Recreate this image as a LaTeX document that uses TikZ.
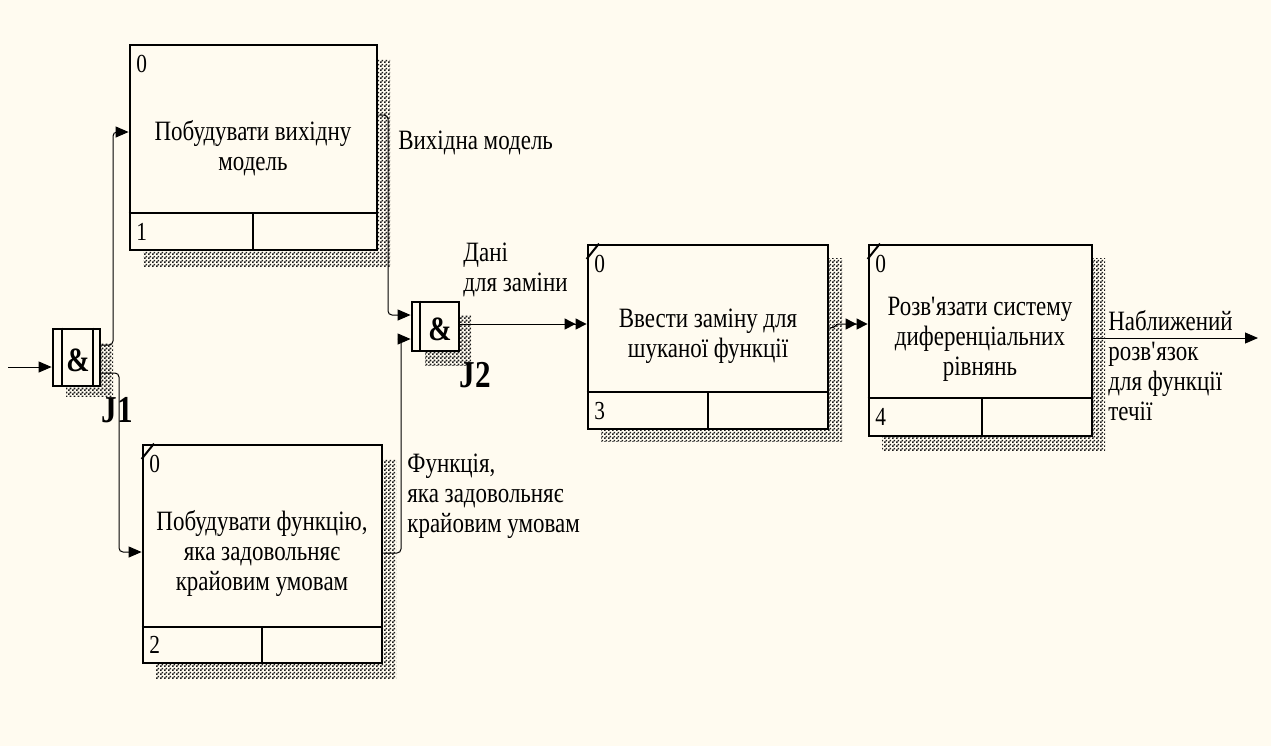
\documentclass[tikz,border=0pt]{standalone}
\usepackage{fontspec}
\setmainfont{Liberation Serif}[FakeStretch=0.82]
\usetikzlibrary{arrows.meta,patterns}
\definecolor{bg}{HTML}{FFFBF0}
\pgfdeclarepatternformonly{checks}{\pgfpointorigin}{\pgfpoint{2pt}{2pt}}{\pgfpoint{2pt}{2pt}}{%
  \pgfpathrectangle{\pgfpointorigin}{\pgfpoint{1pt}{1pt}}%
  \pgfpathrectangle{\pgfpoint{1pt}{1pt}}{\pgfpoint{1pt}{1pt}}%
  \pgfusepath{fill}}
\newcommand\apo{\textquotesingle}
\begin{document}
\begin{tikzpicture}[x=0.5pt,y=-0.5pt,
  box/.style={draw=black, line width=1.4pt, fill=bg, inner sep=0pt},
  divline/.style={draw=black, line width=1.4pt},
  shade/.style={pattern=checks, pattern color=black!90},
  lbl/.style={font=\fontsize{14}{15}\selectfont, align=center, inner sep=0pt},
  side/.style={font=\fontsize{14}{15}\selectfont, align=left, inner sep=0pt, anchor=west},
  num/.style={font=\fontsize{13}{13}\selectfont, inner sep=0pt, anchor=west},
  jname/.style={font=\bfseries\fontsize{19}{20}\selectfont, inner sep=0pt},
  amp/.style={font=\bfseries\fontsize{17}{17}\selectfont, inner sep=0pt},
  conn/.style={draw=black, line width=0.5pt, rounded corners=2pt},
  arr/.style={conn, -{Triangle[length=6.5pt,width=5.5pt]}},
  darr/.style={conn, -{Triangle[length=5.5pt,width=5.5pt]Triangle[length=5.5pt,width=5.5pt]}},
  corner/.style={draw=black, line width=1pt}
]
\fill[bg] (0,0) rectangle (1271,746);
\useasboundingbox (0,0) rectangle (1271,746);

% shadows
\fill[shade] (143,59) rectangle (390,266);
\fill[shade] (156,459) rectangle (396,678);
\fill[shade] (601,258) rectangle (842,441);
\fill[shade] (882,258) rectangle (1105,450);
\fill[shade] (66,343) rectangle (113,396);
\fill[shade] (425,315) rectangle (471,365);

% box 1
\node[box, minimum width=123.5pt, minimum height=102.5pt] (b1) at (253.5,147.5) {};
\draw[divline] (b1.west |- 0,213) -- (b1.east |- 0,213);
\draw[divline] (253,213) -- (b1.south -| 253,0);
\node[lbl] (t1) at (253,148) {Побудувати вихідну\\модель};
\node[num] (z1) at (136,64) {0};
\node[num] (n1) at (136,232) {1};

% box 2
\node[box, minimum width=119.5pt, minimum height=109pt] (b2) at (262.5,554) {};
\draw[divline] (b2.west |- 0,627) -- (b2.east |- 0,627);
\draw[divline] (262,627) -- (b2.south -| 262,0);
\draw[corner] (b2.west |- 0,459) -- (b2.north -| 154,0);
\node[lbl] (t2) at (262,553) {Побудувати функцію,\\яка задовольняє\\крайовим умовам};
\node[num] (z2) at (149,464) {0};
\node[num] (n2) at (149,645) {2};

% box 3
\node[box, minimum width=120pt, minimum height=92pt] (b3) at (708,337) {};
\draw[divline] (b3.west |- 0,392) -- (b3.east |- 0,392);
\draw[divline] (708,392) -- (b3.south -| 708,0);
\draw[corner] (b3.west |- 0,259) -- (b3.north -| 599,0);
\node[lbl] (t3) at (708,336) {Ввести заміну для\\шуканої функції};
\node[num] (z3) at (594,264) {0};
\node[num] (n3) at (594,411) {3};

% box 4
\node[box, minimum width=111.5pt, minimum height=95.5pt] (b4) at (980.5,340.5) {};
\draw[divline] (b4.west |- 0,398) -- (b4.east |- 0,398);
\draw[divline] (982,398) -- (b4.south -| 982,0);
\draw[corner] (b4.west |- 0,259) -- (b4.north -| 880,0);
\node[lbl] (t4) at (980,339) {Розв\apo язати систему\\диференціальних\\рівнянь};
\node[num] (z4) at (875,264) {0};
\node[num] (n4) at (875,417) {4};

% junction J1
\node[box, minimum width=23.5pt, minimum height=28.5pt] (j1) at (76.5,357.5) {};
\draw[divline] (62,0 |- j1.north) -- (62,0 |- j1.south);
\draw[divline] (93,0 |- j1.north) -- (93,0 |- j1.south);
\node[amp] (a1) at (78,360) {\&};
\node[jname] (l1) at (117,410) {J1};

% junction J2
\node[box, minimum width=23.5pt, minimum height=24.5pt] (j2) at (435.5,326.5) {};
\draw[divline] (420,0 |- j2.north) -- (420,0 |- j2.south);
\node[amp] (a2) at (440,329) {\&};
\node[jname] (l2) at (475,375) {J2};

% connectors
\coordinate (in) at (8,367);
\coordinate (out) at (1258,338);
\draw[arr] (in) -- (j1.west |- in);
\draw[arr] (j1.east |- 0,345) -- (113,345) -- (113,132) -- (b1.west |- 0,132);
\draw[arr] (j1.east |- 0,373) -- (119,373) -- (119,552) -- (b2.west |- 0,552);
\draw[arr] (b1.east |- 0,115) -- (388,115) -- (388,315) -- (j2.west |- 0,315);
\draw[arr] (b2.east |- 0,553) -- (401,553) -- (401,339) -- (j2.west |- 0,339);
\draw[darr] (j2.east |- 0,324) -- (b3.west |- 0,324);
\draw[darr] (b3.east |- 0,328) .. controls (836,328) and (836,324) .. (842,324) -- (b4.west |- 0,324);
\draw[arr] (b4.east |- 0,338) -- (out);

% labels
\node[side] (lv) at (398,143) {Вихідна модель};
\node[side] (ld) at (463,270) {Дані\\для заміни};
\node[side] (lf) at (407,496) {Функція,\\яка задовольняє\\крайовим умовам};
\node[side] (ln) at (1108,366) {Наближений\\розв\apo язок\\для функції\\течії};
\end{tikzpicture}
\end{document}
